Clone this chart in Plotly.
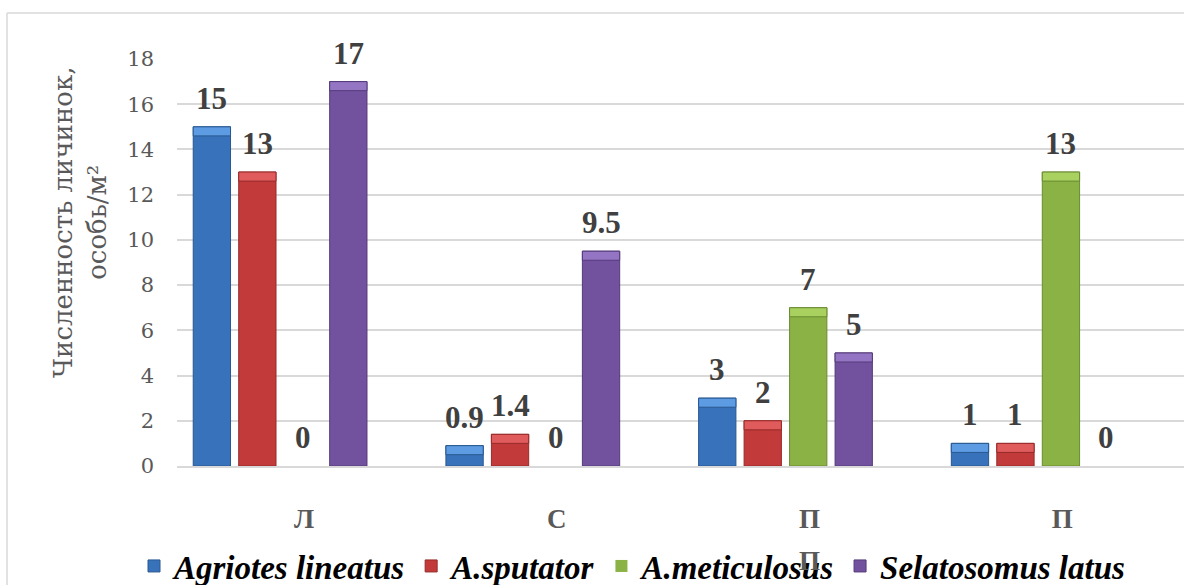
import plotly.graph_objects as go

# Wireworm larvae density by site type
categories = ["Л", "С", "П", "П"]
species = ["Agriotes lineatus", "A.sputator", "A.meticulosus", "Selatosomus latus"]
agriotes_lineatus = [15, 0.9, 3, 1]
a_sputator = [13, 1.4, 2, 1]
a_meticulosus = [0, 0, 7, 13]
selatosomus_latus = [17, 9.5, 5, 0]
y_ticks = [0, 2, 4, 6, 8, 10, 12, 14, 16, 18]
y_title = "Численность личинок,<br>особь/м²"

series = [agriotes_lineatus, a_sputator, a_meticulosus, selatosomus_latus]
fills = ["#3872bb", "#c23a3a", "#8bb244", "#72529e"]
edges = ["#295890", "#972b2b", "#6a8a32", "#543a7a"]
caps = ["#5d9be3", "#e05b5b", "#a9d160", "#9475c4"]

W, H = 1184, 585
ML, MR, MT, MB = 177, 0, 59, 119
X_RANGE = [-0.408, 3.577]
BARGAP, BARGROUPGAP = 0.28, 0.18
CAP = 0.4          # height of the lighter bevel strip on bar tops
TICK_SHIFT = 24

plot_w = W - ML - MR
plot_h = H - MT - MB
cat_px = plot_w / (X_RANGE[1] - X_RANGE[0])
slot_px = cat_px * (1 - BARGAP) / len(series)


def px_x(px):
    return (px - ML) / plot_w


def px_y(py):
    return (H - MB - py) / plot_h


x = list(range(len(categories)))
fig = go.Figure()

for i, (name, vals) in enumerate(zip(species, series)):
    fig.add_trace(go.Bar(
        x=x, y=vals, name=name, offsetgroup=str(i),
        marker=dict(color=fills[i],
                    line=dict(color=edges[i], width=[1 if v > 0 else 0 for v in vals])),
        hoverinfo="y+name",
    ))
    fig.add_trace(go.Bar(
        x=x,
        y=[CAP if v > 0 else None for v in vals],
        base=[v - CAP if v > 0 else None for v in vals],
        offsetgroup=str(i), showlegend=False, hoverinfo="skip",
        marker=dict(color=caps[i], line=dict(color=edges[i], width=1)),
    ))

annotations = []
label_font = dict(family="Liberation Serif", size=31, color="#404040", weight="bold")
for i, vals in enumerate(series):
    for xi, v in zip(x, vals):
        annotations.append(dict(
            x=xi, y=v, xref="x", yref="y", text=f"{v:g}",
            showarrow=False, yanchor="bottom", xanchor="center",
            xshift=(i - (len(series) - 1) / 2) * slot_px, yshift=9,
            font=label_font,
        ))

tick_font = dict(family="Liberation Serif", size=27, color="#595959", weight="bold")

# second line of the third category label
annotations.append(dict(
    x=2, y=px_y(561), xref="x", yref="paper", text="П",
    showarrow=False, xshift=TICK_SHIFT, yanchor="middle", font=tick_font,
))

# y-axis title
annotations.append(dict(
    x=px_x(80), y=px_y(223), xref="paper", yref="paper", text=y_title,
    textangle=-90, showarrow=False, xanchor="center", yanchor="middle",
    font=dict(family="DejaVu Serif", size=26, color="#595959"),
))

# chart frame (left and top edges)
fx = px_x(7)
fy = px_y(13)
shapes = [
    dict(type="line", xref="paper", yref="paper", x0=fx, x1=1.2, y0=fy, y1=fy,
         line=dict(color="#d9d9d9", width=1.5)),
    dict(type="line", xref="paper", yref="paper", x0=fx, x1=fx, y0=fy, y1=-0.5,
         line=dict(color="#d9d9d9", width=1.5)),
]

fig.update_layout(
    width=W, height=H,
    margin=dict(l=ML, r=MR, t=MT, b=MB, pad=0),
    paper_bgcolor="white", plot_bgcolor="white",
    barmode="group", bargap=BARGAP, bargroupgap=BARGROUPGAP,
    showlegend=True,
    legend=dict(
        orientation="h", xref="container", yref="container",
        x=632 / W, y=1 - 566 / H, xanchor="center", yanchor="middle",
        font=dict(family="Liberation Serif", size=33, color="black",
                  weight="bold", style="italic"),
        bgcolor="rgba(0,0,0,0)", itemclick=False,
    ),
    xaxis=dict(
        range=X_RANGE, tickvals=x, ticktext=categories,
        showgrid=False, zeroline=False,
        showline=True, linecolor="#d9d9d9", linewidth=1.5,
        ticks="", ticklabelstandoff=28, ticklabelshift=TICK_SHIFT,
        tickfont=tick_font,
    ),
    yaxis=dict(
        range=[0, 18], tickvals=y_ticks,
        showgrid=True, gridcolor="#d9d9d9", gridwidth=1.5,
        zeroline=False, showline=False, ticks="",
        ticklabelstandoff=22,
        tickfont=dict(family="DejaVu Serif", size=21, color="#595959"),
    ),
    annotations=annotations,
    shapes=shapes,
)

fig.write_html("out.html")
